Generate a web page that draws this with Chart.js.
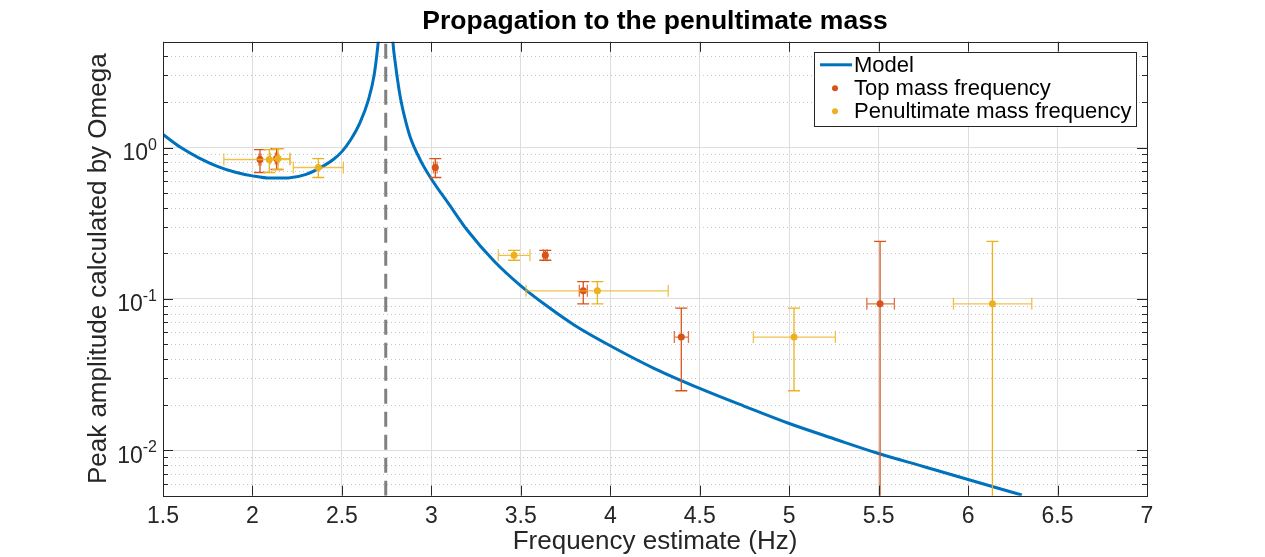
<!DOCTYPE html>
<html>
<head>
<meta charset="utf-8">
<script src="https://cdn.jsdelivr.net/npm/chart.js@4/dist/chart.umd.min.js"></script>
<style>
  html, body { margin: 0; padding: 0; background: #fff; }
</style>
</head>
<body>
<canvas id="myChart" width="1265" height="557"></canvas>
<script>
// model curve (two branches either side of the resonance)
const modelLeftHz  = [1.5, 1.6, 1.7, 1.8, 1.9, 2.0, 2.1, 2.2, 2.3, 2.4, 2.45, 2.5, 2.55, 2.6, 2.65, 2.68, 2.70, 2.715];
const modelLeftAmp = [1.22, 1.0, 0.855, 0.755, 0.69, 0.65, 0.628, 0.63, 0.665, 0.76, 0.83, 0.94, 1.13, 1.45, 2.1, 3.0, 4.6, 7];
const modelRightHz  = [2.775, 2.785, 2.80, 2.825, 2.85, 2.881, 2.94, 3.0, 3.1, 3.2, 3.35, 3.5, 3.65, 3.8, 4.0, 4.25, 4.5, 4.75, 5.0, 5.25, 5.5, 5.75, 6.0, 6.3];
const modelRightAmp = [8, 5.0, 3.5, 2.2, 1.6, 1.18, 0.82, 0.62, 0.42, 0.285, 0.178, 0.122, 0.089, 0.067, 0.049, 0.0345, 0.0256, 0.0195, 0.0150, 0.0119, 0.0095, 0.0078, 0.0064, 0.00505];

const resonanceHz = 2.745;

// measured peaks (same amplitudes for both masses)
const peakAmp     = [0.834, 0.846, 0.738, 0.194, 0.113, 0.0559, 0.0927];
const peakAmpLow  = [0.684, 0.716, 0.634, 0.180, 0.0927, 0.0247, 0.001];
const peakAmpHigh = [0.97, 0.985, 0.846, 0.209, 0.130, 0.0868, 0.24];

const topHz     = [2.042, 2.135, 3.022, 3.637, 3.849, 4.397, 5.508];
const topHzLow  = [2.036, 2.128, 3.012, 3.627, 3.827, 4.358, 5.434];
const topHzHigh = [2.048, 2.142, 3.032, 3.647, 3.872, 4.437, 5.588];

const penHz     = [2.094, 2.143, 2.368, 3.462, 3.928, 5.027, 6.136];
const penHzLow  = [1.84, 2.10, 2.228, 3.374, 3.529, 4.80, 5.918];
const penHzHigh = [2.21, 2.21, 2.508, 3.551, 4.324, 5.258, 6.356];

const xRange = [1.5, 7];
const yRange = [0.005, 5];
const yDecades = [0.01, 0.1, 1];
const seriesNames = ['Model', 'Top mass frequency', 'Penultimate mass frequency'];

const FONT = "'Liberation Sans', Arial, Helvetica, 'DejaVu Sans', sans-serif";
const AXIS = '#262626';
const BLUE = '#0072BD', RED = '#D95319', YELLOW = '#EDB120';

let pts = (xs, ys) => xs.map((x, i) => ({x: x, y: ys[i]}));

const modelData = pts(modelLeftHz, modelLeftAmp)
  .concat([{x: resonanceHz, y: null}])
  .concat(pts(modelRightHz, modelRightAmp));

let minorY = () => {
  const out = [];
  [0.001, 0.01, 0.1, 1].forEach(d => {
    for (let k = 2; k <= 9; k++) {
      const v = k * d;
      if (v >= yRange[0] * 0.999 && v <= yRange[1] * 1.001) out.push(v);
    }
  });
  return out;
};

// error bars, drawn just before each scatter dataset so its dots sit on top
const errorBars = {
  id: 'errorBars',
  beforeDatasetDraw(chart, args) {
    const ds = chart.data.datasets[args.index];
    if (!ds.yLow) return;
    const xs = chart.scales.x, ys = chart.scales.y, ctx = chart.ctx, a = chart.chartArea;
    const cap = 6;
    ctx.save();
    ctx.beginPath();
    ctx.rect(a.left, a.top, a.right - a.left, a.bottom - a.top);
    ctx.clip();
    ctx.lineWidth = 1.3;
    ds.data.forEach((p, i) => {
      const px = xs.getPixelForValue(p.x), py = ys.getPixelForValue(p.y);
      const yl = ys.getPixelForValue(ds.yLow[i]), yh = ys.getPixelForValue(ds.yHigh[i]);
      const xl = xs.getPixelForValue(ds.xLow[i]), xh = xs.getPixelForValue(ds.xHigh[i]);
      ctx.strokeStyle = ds.backgroundColor;
      ctx.globalAlpha = 1;
      ctx.beginPath();
      ctx.moveTo(px, yl); ctx.lineTo(px, yh);
      ctx.moveTo(px - cap, yl); ctx.lineTo(px + cap, yl);
      ctx.moveTo(px - cap, yh); ctx.lineTo(px + cap, yh);
      ctx.stroke();
      ctx.globalAlpha = 0.8;
      ctx.beginPath();
      ctx.moveTo(xl, py); ctx.lineTo(xh, py);
      ctx.moveTo(xl, py - cap); ctx.lineTo(xl, py + cap);
      ctx.moveTo(xh, py - cap); ctx.lineTo(xh, py + cap);
      ctx.stroke();
    });
    ctx.restore();
  }
};

// matlab style box, inward ticks, dotted minor grid, 10^n labels and legend
const matlabAxes = {
  id: 'matlabAxes',
  beforeDatasetsDraw(chart) {
    const ctx = chart.ctx, a = chart.chartArea, ys = chart.scales.y;
    ctx.save();
    ctx.strokeStyle = '#c4c4c4';
    ctx.lineWidth = 1;
    ctx.setLineDash([1, 3]);
    minorY().forEach(v => {
      const y = Math.round(ys.getPixelForValue(v)) + 0.5;
      ctx.beginPath(); ctx.moveTo(a.left, y); ctx.lineTo(a.right, y); ctx.stroke();
    });
    ctx.restore();
  },
  afterDatasetsDraw(chart) {
    const ctx = chart.ctx, a = chart.chartArea, xs = chart.scales.x, ys = chart.scales.y;
    ctx.save();
    ctx.strokeStyle = AXIS;
    ctx.lineWidth = 1;
    ctx.beginPath();
    for (let v = xRange[0]; v <= xRange[1] + 1e-9; v += 0.5) {
      const x = Math.round(xs.getPixelForValue(v)) + 0.5;
      ctx.moveTo(x, a.bottom); ctx.lineTo(x, a.bottom - 10);
      ctx.moveTo(x, a.top); ctx.lineTo(x, a.top + 10);
    }
    yDecades.forEach(v => {
      const y = Math.round(ys.getPixelForValue(v)) + 0.5;
      ctx.moveTo(a.left, y); ctx.lineTo(a.left + 10, y);
      ctx.moveTo(a.right, y); ctx.lineTo(a.right - 10, y);
    });
    minorY().forEach(v => {
      const y = Math.round(ys.getPixelForValue(v)) + 0.5;
      ctx.moveTo(a.left, y); ctx.lineTo(a.left + 5, y);
      ctx.moveTo(a.right, y); ctx.lineTo(a.right - 5, y);
    });
    ctx.stroke();
    ctx.strokeRect(Math.round(a.left) + 0.5, Math.round(a.top) + 0.5, Math.round(a.right - a.left), Math.round(a.bottom - a.top));

    // y tick labels as 10 with a raised exponent
    ctx.fillStyle = AXIS;
    ctx.textAlign = 'right';
    ctx.textBaseline = 'alphabetic';
    yDecades.forEach(v => {
      const y = ys.getPixelForValue(v);
      const exp = String(Math.round(Math.log10(v)));
      const right = a.left - 6;
      ctx.font = '16px ' + FONT;
      const ew = ctx.measureText(exp).width;
      ctx.fillText(exp, right, y + 2);
      ctx.font = '23px ' + FONT;
      ctx.fillText('10', right - ew, y + 12.5);
    });
    ctx.restore();
  },
  afterDraw(chart) {
    const ctx = chart.ctx, a = chart.chartArea;
    const bw = 322, bh = 74;
    const bx = a.right - 11 - bw, by = a.top + 10;
    ctx.save();
    ctx.fillStyle = '#fff';
    ctx.fillRect(bx, by, bw, bh);
    ctx.strokeStyle = AXIS;
    ctx.lineWidth = 1;
    ctx.strokeRect(Math.round(bx) + 0.5, Math.round(by) + 0.5, bw, bh);
    ctx.font = '22px ' + FONT;
    ctx.textBaseline = 'middle';
    const rows = [by + 13, by + 36.5, by + 59.5];
    ctx.strokeStyle = BLUE; ctx.lineWidth = 3;
    ctx.beginPath(); ctx.moveTo(bx + 6, rows[0]); ctx.lineTo(bx + 38, rows[0]); ctx.stroke();
    [RED, YELLOW].forEach((c, i) => {
      ctx.fillStyle = c;
      ctx.beginPath(); ctx.arc(bx + 21, rows[i + 1], 3, 0, Math.PI * 2); ctx.fill();
    });
    ctx.fillStyle = '#000';
    seriesNames.forEach((t, i) => ctx.fillText(t, bx + 40, rows[i] + 1));
    ctx.restore();
  }
};

const ctx = document.getElementById('myChart');
const chart = new Chart(ctx, {
  type: 'scatter',
  data: {
    datasets: [
      {
        type: 'line', label: seriesNames[0], data: modelData,
        borderColor: BLUE, borderWidth: 3, pointRadius: 0,
        cubicInterpolationMode: 'monotone', spanGaps: false, clip: 0, order: 3
      },
      {
        type: 'line', label: 'resonance',
        data: [{x: resonanceHz, y: yRange[0]}, {x: resonanceHz, y: yRange[1]}],
        borderColor: '#808080', borderWidth: 3, borderDash: [15, 8], pointRadius: 0, order: 4
      },
      {
        label: seriesNames[1], data: pts(topHz, peakAmp),
        xLow: topHzLow, xHigh: topHzHigh, yLow: peakAmpLow, yHigh: peakAmpHigh,
        backgroundColor: RED, pointRadius: 3.5, pointBorderWidth: 0, order: 1
      },
      {
        label: seriesNames[2], data: pts(penHz, peakAmp),
        xLow: penHzLow, xHigh: penHzHigh, yLow: peakAmpLow, yHigh: peakAmpHigh,
        backgroundColor: YELLOW, pointRadius: 3.5, pointBorderWidth: 0, order: 0
      }
    ]
  },
  options: {
    responsive: false,
    animation: false,
    devicePixelRatio: 1,
    events: [],
    layout: { padding: { left: 0, right: 118, top: 0, bottom: 0 } },
    plugins: {
      legend: { display: false },
      tooltip: { enabled: false },
      title: {
        display: true, fullSize: false,
        text: 'Propagation to the penultimate mass',
        color: '#000',
        font: { family: FONT, size: 26.5, weight: 'bold' },
        padding: { top: 6, bottom: 4 }
      }
    },
    scales: {
      x: {
        type: 'linear', min: xRange[0], max: xRange[1],
        afterFit: (s) => { s.height = 61.3; },
        ticks: {
          stepSize: 0.5, autoSkip: false, maxRotation: 0, padding: 7,
          color: AXIS, font: { family: FONT, size: 23 },
          callback: (v) => String(v)
        },
        grid: { color: '#dedede', drawTicks: false },
        border: { display: false },
        title: {
          display: true, text: 'Frequency estimate (Hz)', color: AXIS,
          font: { family: FONT, size: 26 }, padding: { top: 0, bottom: 0 }
        }
      },
      y: {
        type: 'logarithmic', min: yRange[0], max: yRange[1],
        afterFit: (s) => { s.width = 163; },
        afterBuildTicks: (s) => { s.ticks = yDecades.map(v => ({value: v, major: true})); },
        ticks: { display: false },
        grid: { color: '#dedede', drawTicks: false },
        border: { display: false },
        title: {
          display: true, text: 'Peak amplitude calculated by Omega', color: AXIS,
          font: { family: FONT, size: 26 }, padding: { top: 83, bottom: 0 }
        }
      }
    }
  },
  plugins: [errorBars, matlabAxes]
});
</script>
</body>
</html>
